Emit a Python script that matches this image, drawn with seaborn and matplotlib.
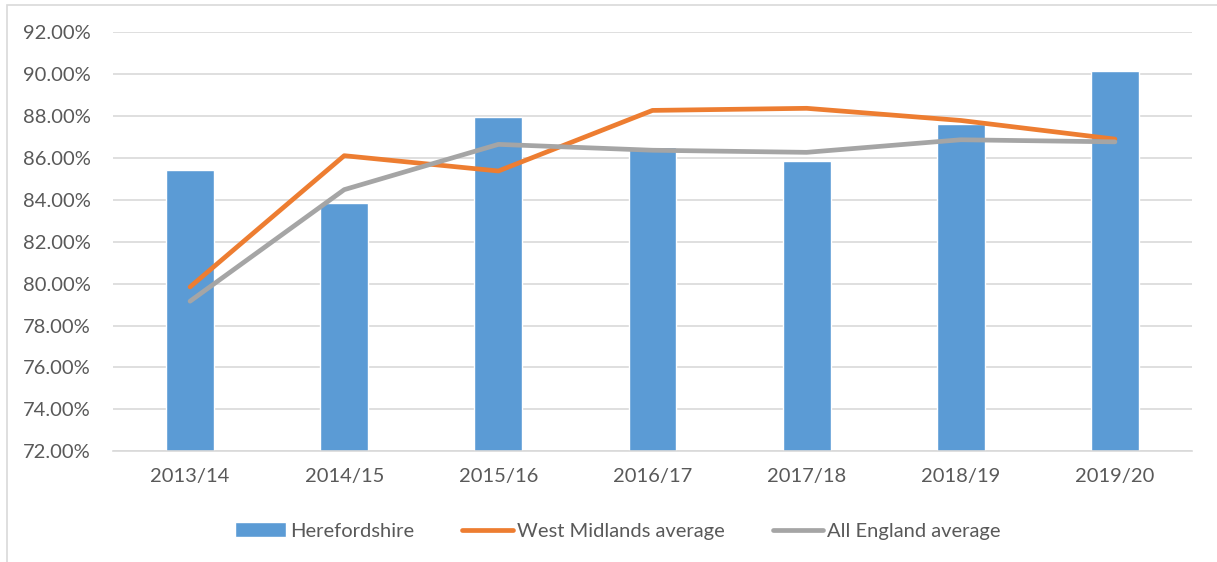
import matplotlib
matplotlib.use("Agg")
import matplotlib.pyplot as plt
import seaborn as sns
import pandas as pd
from matplotlib.patches import Rectangle
from matplotlib.ticker import FuncFormatter

years = ["2013/14", "2014/15", "2015/16", "2016/17", "2017/18", "2018/19", "2019/20"]
herefordshire = [85.44, 83.86, 87.93, 86.52, 85.83, 87.63, 90.12]
west_midlands = [79.84, 86.10, 85.37, 88.26, 88.36, 87.78, 86.89]
all_england = [79.16, 84.48, 86.64, 86.36, 86.26, 86.86, 86.76]

sns.set_theme(style="white")
plt.rcParams["font.family"] = ["Lato", "DejaVu Sans"]

text_col = "#595959"
grid_col = "#D9D9D9"
fs = 14.5

fig = plt.figure(figsize=(12.17, 5.62), dpi=100)
ax = fig.add_axes([113/1217, 1-451.3/562, (1192-113)/1217, (451.3-32)/562])

df = pd.DataFrame({"year": years, "Herefordshire": herefordshire,
                   "West Midlands average": west_midlands,
                   "All England average": all_england})

sns.barplot(data=df, x="year", y="Herefordshire", color="#5B9BD5", width=0.31,
            saturation=1, ax=ax, label="Herefordshire", zorder=2)
sns.lineplot(data=df, x="year", y="West Midlands average", color="#ED7D31", lw=3.4,
             sort=False, ax=ax, label="West Midlands average", zorder=3,
             solid_capstyle="round")
sns.lineplot(data=df, x="year", y="All England average", color="#A5A5A5", lw=3.4,
             sort=False, ax=ax, label="All England average", zorder=4,
             solid_capstyle="round")

ax.set_ylim(72, 92)
ax.set_xlim(-0.5, 6.5)
ax.set_yticks(range(72, 93, 2))
ax.yaxis.set_major_formatter(FuncFormatter(lambda v, p: f"{v:.2f}%"))
ax.grid(axis="y", color=grid_col, lw=1.2, zorder=0)
ax.set_axisbelow(True)
for s in ["top", "right", "left"]:
    ax.spines[s].set_visible(False)
ax.spines["bottom"].set_color(grid_col)
ax.spines["bottom"].set_linewidth(1.2)
ax.tick_params(axis="both", length=0, labelsize=fs, colors=text_col)
ax.tick_params(axis="x", pad=12)
ax.tick_params(axis="y", pad=16)
ax.set_xlabel("")
ax.set_ylabel("")

handles, labels = ax.get_legend_handles_labels()
ax.get_legend().remove()
order = ["Herefordshire", "West Midlands average", "All England average"]
hmap = dict(zip(labels, handles))
leg = fig.legend([hmap[o] for o in order], order, loc="center",
                 bbox_to_anchor=(618/1217, 1-531/562),
                 ncol=3, frameon=False, fontsize=fs, handlelength=2.5,
                 handletextpad=0.2, columnspacing=2.4)
for t in leg.get_texts():
    t.set_color(text_col)

fig.patches.append(Rectangle((7/1217, -0.02), 1.5, 1-5/562+0.02, transform=fig.transFigure,
                             fill=False, edgecolor="#D9D9D9", lw=1.2))

fig.savefig("out.png", dpi=100)
